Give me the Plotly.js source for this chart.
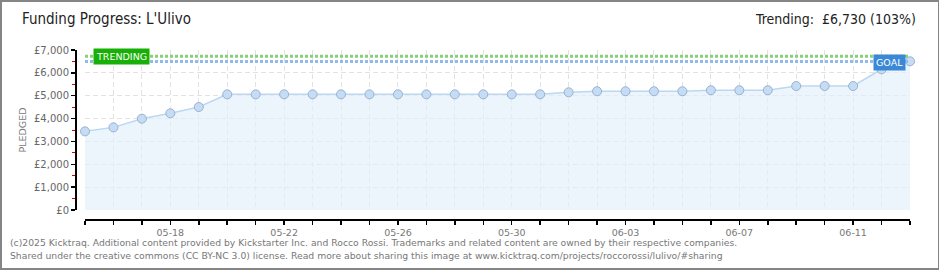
<!DOCTYPE html>
<html>
<head>
<meta charset="utf-8">
<script src="https://cdn.plot.ly/plotly-3.0.1.min.js"></script>
<style>
html,body{margin:0;padding:0;background:#fff;}
#frame{position:absolute;left:0;top:0;width:936px;height:266px;border:2px solid #858585;border-right-width:1px;border-bottom-width:2px;box-sizing:content-box;}
#chart{position:absolute;left:0;top:0;width:940px;height:270px;}
</style>
</head>
<body>
<div id="chart"></div>
<div id="frame" style="pointer-events:none"></div>
<script>
// ---- data ----
const dates = ['2025-05-15','2025-05-16','2025-05-17','2025-05-18','2025-05-19','2025-05-20','2025-05-21','2025-05-22','2025-05-23','2025-05-24','2025-05-25','2025-05-26','2025-05-27','2025-05-28','2025-05-29','2025-05-30','2025-05-31','2025-06-01','2025-06-02','2025-06-03','2025-06-04','2025-06-05','2025-06-06','2025-06-07','2025-06-08','2025-06-09','2025-06-10','2025-06-11','2025-06-12','2025-06-13'];
const pledged = [3440,3615,3995,4230,4505,5060,5060,5060,5060,5060,5060,5060,5060,5060,5060,5060,5060,5150,5195,5195,5195,5195,5240,5240,5240,5425,5425,5425,6155,6505];
const goal = 6500;
const trending = 6730;
const yTickVals = [0,1000,2000,3000,4000,5000,6000,7000];
const yTickText = ['£0','£1,000','£2,000','£3,000','£4,000','£5,000','£6,000','£7,000'];
const titleText = "Funding Progress: L'Ulivo";
const trendText = 'Trending:&nbsp;&nbsp;£6,730 (103%)';
const footer1 = '(c)2025 Kicktraq. Additional content provided by Kickstarter Inc. and Rocco Rossi. Trademarks and related content are owned by their respective companies.';
const footer2 = 'Shared under the creative commons (CC BY-NC 3.0) license. Read more about sharing this image at www.kicktraq.com/projects/roccorossi/lulivo/#sharing';

// ---- layout geometry (pixels) ----
const W = 940, H = 270;
const mL = 76, mR = 30, mT = 50, mB = 50;
const pw = W - mL - mR, ph = H - mT - mB;
const px = x => (x - mL) / pw;      // pixel x -> paper x
const py = y => (H - mB - y) / ph;  // pixel y -> paper y

const first = dates[0], last = dates[dates.length - 1];
const font = 'DejaVu Sans, Verdana, sans-serif';
const condensed = 'DejaVu Sans Condensed, DejaVu Sans, sans-serif';

const traces = [
  {
    x: dates, y: pledged, type: 'scatter', mode: 'lines+markers',
    fill: 'tozeroy', fillcolor: 'rgba(226,238,251,0.65)',
    line: {color: '#bcd7f2', width: 1.5},
    marker: {size: 9, color: '#c6dcf5', line: {color: '#97b2d2', width: 1}},
    cliponaxis: false, hoverinfo: 'skip', showlegend: false
  },
  {
    x: [first, last], y: [trending, trending], type: 'scatter', mode: 'lines',
    line: {color: '#86d078', width: 3, dash: '3px,2px'}, hoverinfo: 'skip', showlegend: false
  },
  {
    x: [first, last], y: [goal, goal], type: 'scatter', mode: 'lines',
    line: {color: '#8ebbea', width: 3, dash: '3px,2px'}, hoverinfo: 'skip', showlegend: false
  }
];

const layout = {
  width: W, height: H,
  margin: {l: mL, r: mR, t: mT, b: mB, pad: 0},
  paper_bgcolor: '#fff', plot_bgcolor: 'rgba(0,0,0,0)',
  showlegend: false,
  xaxis: {
    type: 'date', range: [first, last], domain: [px(85), 1],
    anchor: 'free', position: 0,
    tickformat: '%m-%d', tick0: '2025-05-18', dtick: 4 * 86400000,
    ticks: 'outside', ticklen: 4, tickwidth: 1.5, tickcolor: '#000',
    showline: true, linecolor: '#000', linewidth: 2,
    showgrid: true, gridcolor: '#e2e2e2', griddash: '5px,3px', gridwidth: 1,
    minor: {dtick: 86400000, tick0: '2025-05-15', ticks: 'outside', ticklen: 4, tickwidth: 1.5, tickcolor: '#000', showgrid: true, gridcolor: '#e2e2e2', griddash: '5px,3px', gridwidth: 1},
    tickfont: {family: font, size: 9.5, color: '#777'},
    zeroline: false, fixedrange: true
  },
  yaxis: {
    range: [0, 7000], domain: [py(210), 1],
    anchor: 'free', position: 0,
    tickvals: yTickVals, ticktext: yTickText,
    ticks: 'outside', ticklen: 4, tickwidth: 1.5, tickcolor: '#000',
    showline: true, linecolor: '#000', linewidth: 2,
    showgrid: true, gridcolor: '#e2e2e2', griddash: '5px,3px', gridwidth: 1,
    minor: {dtick: 500, tick0: 0, ticks: 'outside', ticklen: 3, tickwidth: 1, tickcolor: '#e00000', showgrid: false},
    tickfont: {family: font, size: 10, color: '#666'},
    title: {text: 'PLEDGED', font: {family: font, size: 9.5, color: '#777'}, standoff: 5},
    zeroline: false, fixedrange: true
  },
  annotations: [
    {xref: 'paper', yref: 'paper', x: px(20), y: py(19), xanchor: 'left', yanchor: 'middle',
     text: titleText, showarrow: false, font: {family: condensed, size: 15, color: '#222'}},
    {xref: 'paper', yref: 'paper', x: px(918), y: py(19), xanchor: 'right', yanchor: 'middle',
     text: trendText, showarrow: false, font: {family: condensed, size: 14, color: '#222'}},
    {xref: 'paper', yref: 'paper', x: px(8), y: py(242), xanchor: 'left', yanchor: 'middle',
     text: footer1, showarrow: false, font: {family: font, size: 9.25, color: '#777'}},
    {xref: 'paper', yref: 'paper', x: px(8), y: py(256), xanchor: 'left', yanchor: 'middle',
     text: footer2, showarrow: false, font: {family: font, size: 9.25, color: '#777'}},
    {xref: 'x', yref: 'y', x: first, y: trending, xanchor: 'left', yanchor: 'middle', xshift: 8, yshift: 0,
     text: 'TRENDING', showarrow: false, bgcolor: '#18b006', borderpad: 2,
     font: {family: font, size: 9.5, color: '#fff'}},
    {xref: 'x', yref: 'y', x: last, y: goal, xanchor: 'right', yanchor: 'middle', xshift: -4, yshift: -1,
     text: 'GOAL', showarrow: false, bgcolor: '#3a88d6', borderpad: 2,
     font: {family: font, size: 9.5, color: '#fff'}}
  ]
};

Plotly.newPlot('chart', traces, layout, {staticPlot: true, displayModeBar: false});
</script>
</body>
</html>
